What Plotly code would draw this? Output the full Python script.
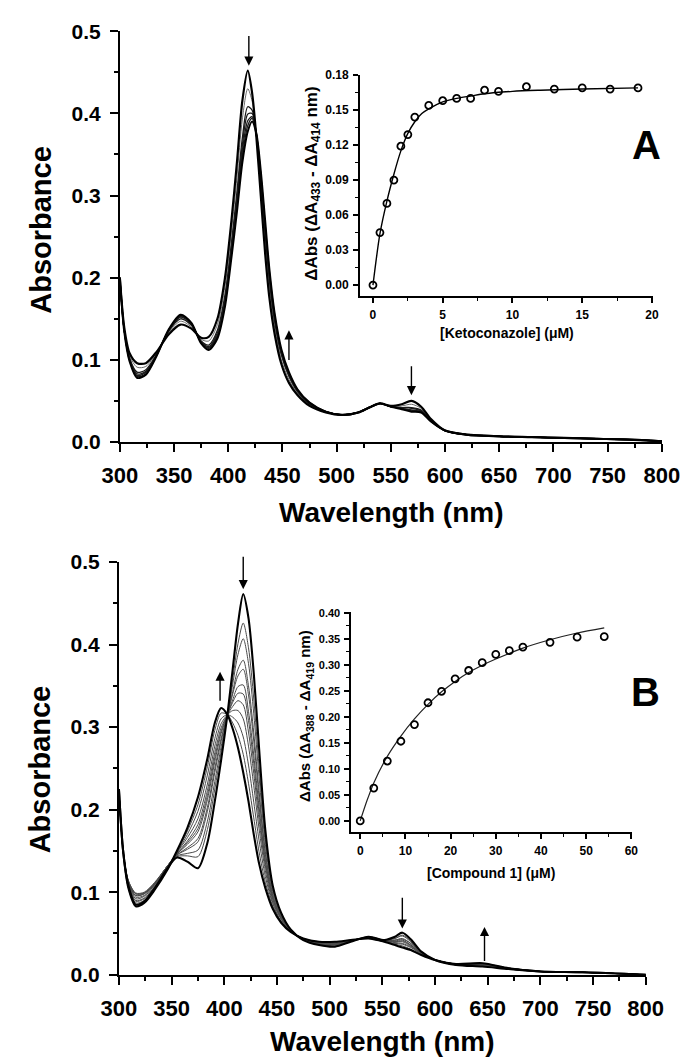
import plotly.graph_objects as go

FONT = "Liberation Sans"

# ---------------- Panel A: spectra (Ketoconazole titration) ----------------
wl_A = [300, 304, 309, 316, 324, 334, 345, 356, 366, 375, 382, 390, 397, 403, 408, 413, 418, 422, 426, 430,
        434, 438, 443, 449, 456, 464, 475, 490, 505, 520, 530, 540, 550, 560, 569, 578, 587, 600, 620, 650,
        680, 710, 740, 770, 800]

specA_0 = [.200, .140, .108, .096, .096, .110, .131, .143, .138, .127, .128, .150, .200, .270, .340, .415, .452, .425, .370, .300,
           .230, .175, .130, .095, .072, .057, .044, .036, .033, .036, .042, .047, .044, .046, .050, .043, .028, .014, .009, .007,
           .006, .005, .004, .003, .001]
specA_1 = [.200, .139, .105, .091, .092, .109, .133, .147, .140, .125, .123, .143, .190, .257, .322, .393, .430, .415, .372, .309,
           .242, .186, .138, .100, .076, .059, .045, .036, .033, .036, .042, .047, .044, .044, .046, .041, .027, .014, .009, .007,
           .006, .005, .004, .003, .001]
specA_2 = [.200, .137, .102, .085, .088, .107, .135, .150, .142, .123, .118, .136, .179, .243, .304, .370, .408, .404, .373, .318,
           .254, .196, .145, .106, .080, .061, .046, .037, .033, .036, .042, .047, .043, .042, .042, .039, .026, .014, .009, .007,
           .006, .005, .004, .003, .001]
specA_3 = [.200, .136, .101, .083, .086, .106, .135, .152, .143, .122, .116, .133, .175, .238, .297, .361, .399, .400, .374, .322,
           .259, .200, .148, .108, .081, .062, .047, .037, .033, .036, .042, .047, .043, .042, .041, .038, .026, .014, .009, .007,
           .006, .005, .004, .003, .001]
specA_4 = [.200, .136, .100, .081, .085, .106, .136, .153, .144, .121, .115, .130, .171, .233, .291, .354, .391, .396, .374, .325,
           .263, .204, .151, .110, .083, .063, .047, .037, .033, .036, .042, .047, .043, .041, .039, .037, .026, .014, .009, .007,
           .006, .005, .004, .003, .001]
specA_5 = [.200, .136, .099, .080, .083, .106, .136, .154, .144, .121, .114, .128, .169, .230, .286, .348, .385, .394, .375, .327,
           .266, .207, .153, .111, .084, .063, .048, .037, .033, .036, .042, .047, .043, .041, .038, .037, .025, .014, .009, .007,
           .006, .005, .004, .003, .001]
specA_6 = [.200, .135, .098, .078, .082, .105, .137, .155, .145, .120, .112, .126, .165, .225, .280, .340, .378, .390, .375, .330,
           .270, .210, .155, .113, .085, .064, .048, .037, .033, .036, .042, .047, .043, .040, .037, .036, .025, .014, .009, .007,
           .006, .005, .004, .003, .001]

# ---------------- Panel A inset ----------------
keto_conc = [0, 0.5, 1, 1.5, 2, 2.5, 3, 4, 5, 6, 7, 8, 9, 11, 13, 15, 17, 19]
keto_dabs = [0.000, 0.045, 0.070, 0.090, 0.119, 0.129, 0.144, 0.154, 0.158, 0.160, 0.160, 0.167, 0.166, 0.170, 0.168,
             0.169, 0.168, 0.169]
keto_fit_x = [0, 0.5, 1, 1.5, 2, 2.5, 3, 3.5, 4, 5, 6, 7, 8, 10, 12, 15, 19]
keto_fit_y = [0, 0.044, 0.072, 0.095, 0.115, 0.130, 0.140, 0.147, 0.151, 0.157, 0.160, 0.162, 0.164, 0.166, 0.167,
              0.168, 0.169]

# ---------------- Panel B: spectra (Compound 1 titration) ----------------
wl_B = [300, 304, 309, 316, 324, 334, 345, 355, 365, 375, 384, 391, 397, 403, 408, 413, 418, 423, 428, 433,
        439, 446, 454, 463, 475, 490, 505, 520, 537, 552, 562, 569, 577, 587, 600, 620, 645, 670, 700, 740, 800]

specB_0 = [.225, .150, .108, .085, .089, .105, .127, .142, .137, .129, .160, .210, .260, .315, .370, .425, .461, .432, .365, .275,
           .175, .108, .075, .055, .042, .036, .034, .040, .046, .042, .046, .051, .043, .028, .018, .012, .010, .007, .004, .003, .000]
specB_1 = [.225, .150, .110, .089, .092, .107, .128, .143, .144, .143, .176, .225, .270, .315, .358, .401, .426, .396, .334, .253,
           .164, .104, .073, .055, .042, .037, .035, .040, .046, .042, .044, .048, .041, .027, .018, .012, .011, .007, .004, .003, .000]
specB_2 = [.225, .150, .111, .092, .095, .109, .129, .144, .147, .151, .186, .234, .276, .315, .352, .388, .407, .377, .316, .240,
           .158, .101, .072, .054, .043, .037, .036, .041, .046, .042, .044, .047, .040, .027, .018, .012, .011, .007, .004, .003, .000]
specB_3 = [.225, .150, .113, .096, .098, .110, .130, .145, .152, .161, .198, .245, .283, .315, .343, .370, .381, .350, .293, .223,
           .149, .098, .071, .054, .043, .037, .036, .041, .045, .041, .042, .044, .038, .027, .018, .012, .011, .007, .004, .003, .000]
specB_4 = [.225, .150, .114, .098, .099, .111, .130, .145, .154, .165, .203, .250, .286, .315, .340, .362, .370, .339, .283, .216,
           .146, .096, .070, .054, .043, .038, .037, .041, .045, .041, .042, .043, .038, .026, .018, .012, .012, .007, .004, .003, .000]
specB_5 = [.225, .150, .114, .099, .100, .112, .130, .146, .158, .173, .212, .258, .292, .315, .333, .349, .351, .319, .266, .204,
           .139, .094, .069, .053, .043, .038, .037, .041, .045, .041, .041, .042, .036, .026, .018, .013, .012, .008, .004, .003, .000]
specB_6 = [.225, .150, .113, .098, .099, .111, .130, .146, .160, .177, .217, .263, .295, .315, .330, .341, .340, .308, .256, .197,
           .136, .092, .068, .053, .043, .038, .037, .041, .045, .041, .040, .041, .036, .026, .018, .013, .012, .008, .004, .003, .000]
specB_7 = [.225, .150, .112, .096, .098, .110, .130, .147, .162, .182, .223, .269, .299, .315, .325, .332, .327, .294, .244, .188,
           .132, .091, .068, .053, .043, .038, .038, .041, .045, .041, .040, .040, .035, .026, .018, .013, .012, .008, .004, .003, .000]
specB_8 = [.225, .150, .111, .094, .096, .109, .129, .148, .166, .189, .231, .277, .304, .315, .320, .320, .310, .277, .229, .177,
           .126, .088, .067, .053, .043, .039, .038, .041, .045, .041, .039, .038, .034, .025, .018, .013, .013, .008, .004, .003, .000]
specB_9 = [.225, .150, .109, .090, .093, .107, .127, .148, .170, .198, .242, .286, .310, .315, .312, .305, .288, .254, .209, .163,
           .119, .086, .065, .053, .044, .039, .039, .042, .044, .040, .038, .037, .033, .025, .018, .013, .013, .008, .004, .003, .000]
specB_10 = [.225, .150, .107, .087, .090, .105, .126, .149, .174, .206, .252, .296, .317, .315, .305, .290, .267, .232, .190, .149,
            .112, .083, .064, .052, .044, .040, .039, .042, .044, .040, .037, .035, .031, .024, .018, .013, .014, .008, .004, .003, .000]
specB_11 = [.225, .150, .105, .083, .087, .103, .125, .150, .178, .215, .262, .305, .323, .315, .298, .275, .245, .210, .170, .135,
            .105, .080, .063, .052, .044, .040, .040, .042, .044, .040, .036, .033, .030, .024, .018, .013, .014, .008, .004, .003, .000]

# ---------------- Panel B inset ----------------
cpd_conc = [0, 3, 6, 9, 12, 15, 18, 21, 24, 27, 30, 33, 36, 42, 48, 54]
cpd_dabs = [0.000, 0.063, 0.115, 0.153, 0.185, 0.227, 0.249, 0.273, 0.289, 0.304, 0.320, 0.327, 0.334, 0.343, 0.353, 0.354]
cpd_fit_x = [0, 1.5, 3, 6, 9, 12, 15, 18, 21, 24, 27, 30, 36, 42, 48, 54]
cpd_fit_y = [0, 0.039, 0.073, 0.124, 0.163, 0.196, 0.224, 0.248, 0.268, 0.285, 0.299, 0.311, 0.332, 0.348, 0.361, 0.371]

# arrows: (wavelength, tail absorbance, tip absorbance)
arrows_A = [(419, 0.496, 0.458), (456, 0.098, 0.136), (569, 0.094, 0.057)]
arrows_B = [(418, 0.508, 0.467), (396, 0.330, 0.367), (569, 0.095, 0.056), (647, 0.015, 0.058)]

W, H = 693, 1062


def px(x):
    return x / W


def py(y):
    return 1 - y / H


fig = go.Figure()

# Panel A spectra: thin first, thick on top
styleA = [(specA_1, '#6a6a6a', 1.0), (specA_2, '#1a1a1a', 1.3), (specA_3, '#1a1a1a', 1.3), (specA_4, '#1a1a1a', 1.3),
          (specA_5, '#1a1a1a', 1.3), (specA_6, '#000000', 2.0), (specA_0, '#000000', 2.2)]
for ys, c, w in styleA:
    fig.add_trace(go.Scatter(x=wl_A, y=ys, mode='lines', line=dict(color=c, width=w, shape='spline', smoothing=0.8),
                             xaxis='x', yaxis='y', hoverinfo='skip'))

# Panel A inset
fig.add_trace(go.Scatter(x=keto_fit_x, y=keto_fit_y, mode='lines',
                         line=dict(color='black', width=1.4, shape='spline', smoothing=0.8), xaxis='x2', yaxis='y2'))
fig.add_trace(go.Scatter(x=keto_conc, y=keto_dabs, mode='markers',
                         marker=dict(symbol='circle-open', size=7, color='black', line=dict(width=1.8, color='black')),
                         xaxis='x2', yaxis='y2'))

# Panel B spectra
thinB = [specB_1, specB_2, specB_3, specB_4, specB_5, specB_6, specB_7, specB_8, specB_9, specB_10]
for ys in thinB:
    fig.add_trace(go.Scatter(x=wl_B, y=ys, mode='lines', line=dict(color='#4a4a4a', width=1.0, shape='spline', smoothing=0.8),
                             xaxis='x3', yaxis='y3', hoverinfo='skip'))
for ys in [specB_11, specB_0]:
    fig.add_trace(go.Scatter(x=wl_B, y=ys, mode='lines', line=dict(color='black', width=2.1, shape='spline', smoothing=0.8),
                             xaxis='x3', yaxis='y3', hoverinfo='skip'))

# Panel B inset
fig.add_trace(go.Scatter(x=cpd_fit_x, y=cpd_fit_y, mode='lines',
                         line=dict(color='#222', width=1.2, shape='spline', smoothing=0.8), xaxis='x4', yaxis='y4'))
fig.add_trace(go.Scatter(x=cpd_conc, y=cpd_dabs, mode='markers',
                         marker=dict(symbol='circle-open', size=7, color='black', line=dict(width=1.8, color='black')),
                         xaxis='x4', yaxis='y4'))

main_tickfont = dict(family=FONT, size=21, color='black', weight='bold')
main_xtickfont = dict(family=FONT, size=22, color='black', weight='bold')
inset_tickfont = dict(family=FONT, size=12, color='black', weight='bold')


def main_axis(**kw):
    d = dict(showline=True, linecolor='black', linewidth=2, ticks='outside', ticklen=8, tickwidth=2,
             tickcolor='black', showgrid=False, zeroline=False, tickfont=main_tickfont, ticklabelstandoff=5)
    d.update(kw)
    return d


def inset_axis(**kw):
    d = dict(showline=True, linecolor='black', linewidth=1.5, ticks='outside', ticklen=5, tickwidth=1.5,
             tickcolor='black', showgrid=False, zeroline=False, tickfont=inset_tickfont, ticklabelstandoff=2)
    d.update(kw)
    return d


minor_main_x = dict(dtick=25, ticks='outside', ticklen=4, tickwidth=1.5, tickcolor='black', showgrid=False)
minor_main_y = dict(dtick=0.05, ticks='outside', ticklen=4, tickwidth=1.5, tickcolor='black', showgrid=False)

fig.update_layout(
    width=W, height=H, margin=dict(l=0, r=0, t=0, b=0),
    paper_bgcolor='white', plot_bgcolor='rgba(0,0,0,0)', showlegend=False,
    xaxis=main_axis(domain=[px(99), px(671)], range=[300, 800.3], dtick=50, tick0=300, anchor='y', minor=minor_main_x,
                    tickfont=main_xtickfont),
    yaxis=main_axis(domain=[py(432), py(12)], range=[0, 0.5005], dtick=0.1, tick0=0, tickformat='.1f', anchor='x',
                    minor=minor_main_y),
    xaxis2=inset_axis(domain=[px(352), px(661)], range=[-0.95, 20.05], dtick=5, tick0=0, anchor='y2',
                      minor=dict(dtick=2.5, ticks='outside', ticklen=3, tickwidth=1.2, tickcolor='black')),
    yaxis2=inset_axis(domain=[py(283), py(57)], range=[-0.0095, 0.1802], dtick=0.03, tick0=0, tickformat='.2f',
                      anchor='x2', minor=dict(dtick=0.015, ticks='outside', ticklen=3, tickwidth=1.2, tickcolor='black')),
    xaxis3=main_axis(domain=[px(98), px(654)], range=[300, 800.3], dtick=50, tick0=300, anchor='y3', minor=minor_main_x,
                     tickfont=main_xtickfont),
    yaxis3=main_axis(domain=[py(976), py(554)], range=[0, 0.5005], dtick=0.1, tick0=0, tickformat='.1f', anchor='x3',
                     minor=minor_main_y),
    xaxis4=inset_axis(domain=[px(343), px(639)], range=[-2, 60.1], dtick=10, tick0=0, anchor='y4',
                      minor=dict(dtick=5, ticks='outside', ticklen=3, tickwidth=1.2, tickcolor='black')),
    yaxis4=inset_axis(domain=[py(830), py(606)], range=[-0.021, 0.4005], dtick=0.05, tick0=0, tickformat='.2f',
                      anchor='x4', tickfont=dict(family=FONT, size=11, color='black', weight='bold'),
                      minor=dict(dtick=0.025, ticks='outside', ticklen=3, tickwidth=1.2, tickcolor='black')),
)

ann = []


def text_ann(x, y, text, size, angle=0, weight='bold'):
    ann.append(dict(x=px(x), y=py(y), xref='paper', yref='paper', text=text, showarrow=False, textangle=angle,
                    xanchor='center', yanchor='middle',
                    font=dict(family=FONT, size=size, color='black', weight=weight)))


text_ann(15, 215, 'Absorbance', 29, -90)
text_ann(15, 766, 'Absorbance', 29, -90)
text_ann(385, 504, 'Wavelength (nm)', 28)
text_ann(376, 1044, 'Wavelength (nm)', 28)
text_ann(507, 321, '[Ketoconazole] (μM)', 14)
text_ann(491, 872, '[Compound 1] (μM)', 14)
text_ann(302, 168, 'ΔAbs (ΔA<sub>433</sub> - ΔA<sub>414</sub> nm)', 17, -90)
text_ann(295, 712, 'ΔAbs (ΔA<sub>388</sub> - ΔA<sub>419</sub> nm)', 15, -90)
text_ann(655, 129, 'A', 40)
text_ann(653, 687, 'B', 40)

for (xa, ya), arrows in [(('x', 'y'), arrows_A), (('x3', 'y3'), arrows_B)]:
    for wl, tail, tip in arrows:
        ann.append(dict(x=wl, y=tip, ax=wl, ay=tail, xref=xa, yref=ya, axref=xa, ayref=ya, text='',
                        showarrow=True, arrowhead=2, arrowsize=1.3, arrowwidth=1.4, arrowcolor='black'))

fig.update_layout(annotations=ann)

fig.write_html("out.html")
